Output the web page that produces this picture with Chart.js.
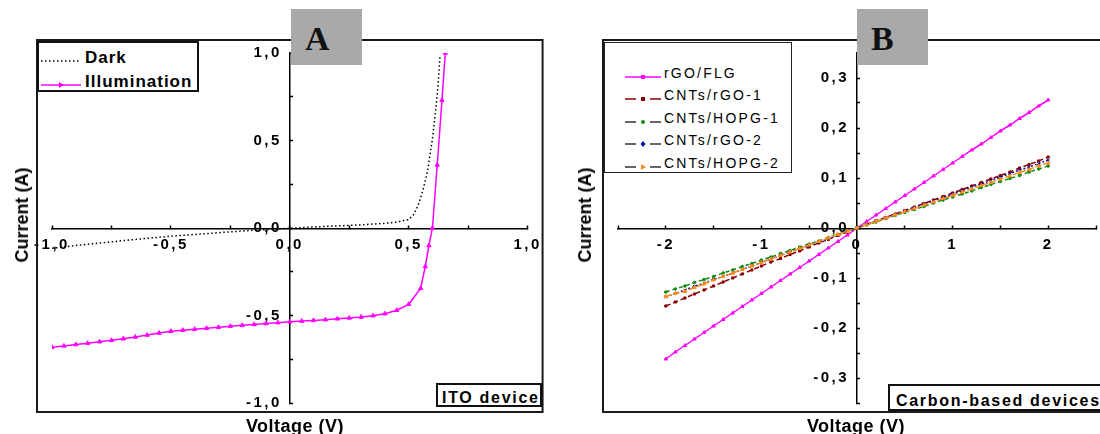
<!DOCTYPE html>
<html>
<head>
<meta charset="utf-8">
<script src="https://cdn.jsdelivr.net/npm/chart.js@4.4.1/dist/chart.umd.min.js"></script>
<style>
  html, body { margin: 0; padding: 0; background: #fff; }
  #wrap { position: relative; width: 1100px; height: 434px; overflow: hidden; font-family: 'Liberation Sans', Arial, sans-serif; color: #000; }
  canvas { position: absolute; top: 0; }
  #chartA { left: 0; }
  #chartB { left: 550px; }
  .tag { position: absolute; top: 9px; width: 71px; height: 56px; background: #a9a9a9; box-sizing: border-box; padding-left: 14px;
         font: bold 34px 'Liberation Serif', 'Times New Roman', serif; line-height: 59px; color: #111; }
  .note { position: absolute; border: 2px solid #111; background: #fff; box-sizing: border-box; white-space: nowrap;
          font-weight: bold; font-size: 16px; letter-spacing: 1.7px; }
  .axtitle { position: absolute; font-weight: bold; font-size: 18px; line-height: 18px; white-space: nowrap; }
  .lgbox { position: absolute; background: #fff; box-sizing: border-box; }
  .lgtext { position: absolute; white-space: nowrap; }
  .lgline { position: absolute; }
</style>
</head>
<body>
<div id="wrap">
  <canvas id="chartA" width="550" height="434"></canvas>
  <canvas id="chartB" width="570" height="434"></canvas>
</div>
<script>
// ---- Panel A : ITO device ----
const namesA = ['Dark', 'Illumination'];
const voltsDark = [-1.0, -0.9, -0.8, -0.7, -0.6, -0.5, -0.4, -0.3, -0.2, -0.1, 0.0, 0.1, 0.2, 0.3, 0.4, 0.45,
                   0.5, 0.52, 0.54, 0.56, 0.58, 0.59, 0.60, 0.61, 0.62, 0.625, 0.632];
const currentDark = [-0.116, -0.100, -0.086, -0.072, -0.059, -0.047, -0.037, -0.027, -0.017, -0.009, -0.002, 0.006,
                     0.012, 0.018, 0.027, 0.034, 0.048, 0.075, 0.13, 0.215, 0.33, 0.42, 0.51, 0.63, 0.76, 0.84, 0.99];
const voltsIllum = [-1.0, -0.95, -0.9, -0.85, -0.8, -0.75, -0.7, -0.65, -0.6, -0.55, -0.5, -0.45, -0.4, -0.35,
                    -0.3, -0.25, -0.2, -0.15, -0.1, -0.05, 0.0, 0.05, 0.1, 0.15, 0.2, 0.25, 0.3, 0.35, 0.4, 0.45,
                    0.5, 0.55, 0.57, 0.585, 0.60, 0.62, 0.64, 0.654];
const currentIllum = [-0.682, -0.674, -0.666, -0.658, -0.650, -0.642, -0.633, -0.623, -0.612, -0.600, -0.590,
                      -0.584, -0.578, -0.573, -0.567, -0.561, -0.556, -0.551, -0.546, -0.541, -0.536, -0.532,
                      -0.528, -0.524, -0.519, -0.514, -0.509, -0.501, -0.490, -0.470, -0.436, -0.345, -0.22,
                      -0.10, 0.0, 0.36, 0.73, 1.0];
const xMajorA = [-1, -0.5, 0, 0.5, 1];
const xLabelsA = ['-1,0', '-0,5', '0,0', '0,5', '1,0'];
const yMajorA = [-1, -0.5, 0, 0.5, 1];
const yLabelsA = ['-1,0', '-0,5', '0,0', '0,5', '1,0'];

// ---- Panel B : Carbon-based devices ----
const namesB = ['rGO/FLG', 'CNTs/rGO-1', 'CNTs/HOPG-1', 'CNTs/rGO-2', 'CNTs/HOPG-2'];
const voltsB = [-2.0, -1.9, -1.8, -1.7, -1.6, -1.5, -1.4, -1.3, -1.2, -1.1, -1.0, -0.9, -0.8, -0.7, -0.6, -0.5,
                -0.4, -0.3, -0.2, -0.1, 0.0, 0.1, 0.2, 0.3, 0.4, 0.5, 0.6, 0.7, 0.8, 0.9, 1.0, 1.1, 1.2, 1.3,
                1.4, 1.5, 1.6, 1.7, 1.8, 1.9, 2.0];
const rgoFlg = [-0.262, -0.248, -0.235, -0.222, -0.209, -0.196, -0.183, -0.170, -0.157, -0.144, -0.131, -0.118,
                -0.105, -0.092, -0.079, -0.066, -0.053, -0.040, -0.027, -0.014, 0.000, 0.013, 0.026, 0.039,
                0.052, 0.065, 0.078, 0.091, 0.104, 0.117, 0.130, 0.143, 0.156, 0.168, 0.181, 0.194, 0.206,
                0.219, 0.231, 0.244, 0.256];
const cntsRgo1 = [-0.156, -0.148, -0.140, -0.132, -0.124, -0.116, -0.108, -0.100, -0.092, -0.084, -0.076, -0.068,
                  -0.061, -0.053, -0.046, -0.038, -0.030, -0.023, -0.015, -0.008, 0.000, 0.007, 0.014, 0.021,
                  0.028, 0.035, 0.042, 0.049, 0.056, 0.063, 0.070, 0.077, 0.084, 0.091, 0.098, 0.105, 0.112,
                  0.120, 0.127, 0.134, 0.142];
const cntsHopg1 = [-0.128, -0.122, -0.116, -0.109, -0.103, -0.097, -0.090, -0.084, -0.077, -0.071, -0.064, -0.058,
                   -0.051, -0.045, -0.038, -0.032, -0.026, -0.019, -0.013, -0.006, 0.000, 0.006, 0.012, 0.019,
                   0.025, 0.031, 0.037, 0.043, 0.050, 0.056, 0.062, 0.068, 0.074, 0.081, 0.087, 0.093, 0.099,
                   0.105, 0.112, 0.118, 0.124];
const cntsRgo2 = [-0.138, -0.131, -0.124, -0.117, -0.110, -0.103, -0.097, -0.090, -0.083, -0.076, -0.069, -0.062,
                  -0.055, -0.048, -0.041, -0.035, -0.028, -0.021, -0.014, -0.007, 0.000, 0.007, 0.014, 0.020,
                  0.027, 0.034, 0.041, 0.048, 0.054, 0.061, 0.068, 0.075, 0.082, 0.088, 0.095, 0.102, 0.109,
                  0.116, 0.122, 0.129, 0.136];
const cntsHopg2 = [-0.137, -0.131, -0.127, -0.119, -0.112, -0.104, -0.097, -0.090, -0.083, -0.076, -0.069, -0.062,
                   -0.055, -0.048, -0.041, -0.034, -0.027, -0.020, -0.013, -0.007, 0.000, 0.007, 0.013, 0.020,
                   0.026, 0.033, 0.039, 0.046, 0.052, 0.059, 0.065, 0.072, 0.078, 0.085, 0.091, 0.098, 0.104,
                   0.111, 0.117, 0.124, 0.130];
const xMajorB = [-2, -1, 0, 1, 2];
const xLabelsB = ['-2', '-1', '0', '1', '2'];
const yMajorB = [-0.3, -0.2, -0.1, 0, 0.1, 0.2, 0.3];
const yLabelsB = ['-0,3', '-0,2', '-0,1', '0,0', '0,1', '0,2', '0,3'];

// styles (kept apart from the values)
const stylesA = [
  { color: '#000000', dash: [1.5, 2.5], point: false, legend: { kind: 'dotted', line: '#000' } },
  { color: '#ff00ff', dash: [], point: 'triangle', radius: 2.5, legend: { kind: 'solid', line: '#ff00ff', marker: 'triangle' } }
];
const stylesB = [
  { color: '#ff00ff', dash: [], point: 'triangle', radius: 2, order: 5, legend: { kind: 'solid', line: '#ff00ff', marker: 'rect' } },
  { color: '#8b0000', dash: [5, 3], point: 'rect', radius: 1.5, order: 4, legend: { kind: 'split', line: '#8b0000', marker: 'rect' } },
  { color: '#108a10', dash: [4, 3], point: 'circle', radius: 1.3, order: 3, legend: { kind: 'split', line: '#333', marker: 'circle' } },
  { color: '#0a0aa0', dash: [2, 2], point: 'crossRot', radius: 2, order: 2, legend: { kind: 'split', line: '#333', marker: 'diamond' } },
  { color: '#ff8c1a', dash: [6, 2], point: 'triangle', radius: 2, order: 1, legend: { kind: 'split', line: '#333', marker: 'triangle' } }
];

const toXY = (xs, ys) => xs.map((x, i) => ({ x: x, y: ys[i] }));

function labelFor(majors, labels) {
  return (v) => {
    const i = majors.findIndex(m => Math.abs(m - v) < 1e-6);
    return i >= 0 ? labels[i] : '';
  };
}

const tickFont = { family: "'Liberation Sans', Arial, sans-serif", size: 15, weight: 'bold' };

function axis(min, max, step, majors, labels) {
  return {
    type: 'linear',
    position: 'center',
    min: min,
    max: max,
    ticks: { stepSize: step, autoSkip: false, maxRotation: 0, color: '#000', font: tickFont, padding: 12,
             callback: labelFor(majors, labels) },
    grid: { display: true, drawOnChartArea: false, drawTicks: true, tickLength: -4, tickWidth: 1.5, tickColor: '#000' },
    border: { display: true, color: '#000', width: 1.5 }
  };
}

// frame round the plot, drawn from the chart area
const framePlugin = {
  id: 'frame',
  beforeDraw(chart) {
    chart.ctx.letterSpacing = '2.5px';
  },
  afterDraw(chart, args, opts) {
    const { ctx, chartArea: a } = chart;
    ctx.save();
    ctx.strokeStyle = '#1a1a1a';
    ctx.lineWidth = 2;
    ctx.strokeRect(a.left - opts.left, a.top - opts.top,
                   a.right - a.left + opts.left + opts.right, a.bottom - a.top + opts.top + opts.bottom);
    ctx.restore();
  }
};

function makeDataset(name, xs, ys, st) {
  return {
    label: name,
    data: toXY(xs, ys),
    borderColor: st.color,
    backgroundColor: st.color,
    borderWidth: 1.5,
    borderDash: st.dash,
    tension: 0,
    pointStyle: st.point || 'circle',
    pointRadius: st.point ? st.radius : 0,
    pointBorderWidth: 1,
    pointBorderColor: st.color,
    pointBackgroundColor: st.color,
    order: st.order || 0
  };
}

function baseOptions(pad, xs, ys) {
  return {
    responsive: false,
    animation: false,
    devicePixelRatio: 1,
    layout: { padding: pad },
    plugins: { legend: { display: false }, tooltip: { enabled: false },
               frame: { left: 15, top: 13, right: 15, bottom: 9 } },
    scales: { x: xs, y: ys }
  };
}

new Chart(document.getElementById('chartA'), {
  type: 'line',
  data: {
    datasets: [
      makeDataset(namesA[0], voltsDark, currentDark, stylesA[0]),
      makeDataset(namesA[1], voltsIllum, currentIllum, stylesA[1])
    ]
  },
  options: baseOptions({ left: 52, right: 18, top: 53, bottom: 31 },
                       axis(-1, 1, 0.25, xMajorA, xLabelsA),
                       axis(-1, 1, 0.25, yMajorA, yLabelsA)),
  plugins: [framePlugin]
});

const seriesB = [rgoFlg, cntsRgo1, cntsHopg1, cntsRgo2, cntsHopg2];
new Chart(document.getElementById('chartB'), {
  type: 'line',
  data: { datasets: seriesB.map((s, i) => makeDataset(namesB[i], voltsB, s, stylesB[i])) },
  options: baseOptions({ left: 68, right: 24, top: 53, bottom: 31 },
                       axis(-2.5, 2.5, 0.5, xMajorB, xLabelsB),
                       axis(-0.35, 0.35, 0.05, yMajorB, yLabelsB)),
  plugins: [framePlugin]
});

// ---- overlays: legends, tags, notes, axis titles ----
const wrap = document.getElementById('wrap');
function add(cls, css, html) {
  const d = document.createElement('div');
  d.className = cls;
  d.style.cssText = css;
  d.innerHTML = html;
  wrap.appendChild(d);
  return d;
}

function markerSvg(m, color, cx, cy) {
  if (m === 'rect') return `<rect x="${cx - 2}" y="${cy - 2}" width="4" height="4" fill="${color}"/>`;
  if (m === 'circle') return `<circle cx="${cx}" cy="${cy}" r="2" fill="${color}"/>`;
  if (m === 'diamond') return `<path d="M${cx} ${cy - 3}L${cx + 2.5} ${cy}L${cx} ${cy + 3}L${cx - 2.5} ${cy}Z" fill="${color}"/>`;
  if (m === 'triangle') return `<path d="M${cx - 2} ${cy - 3}L${cx + 3} ${cy}L${cx - 2} ${cy + 3}Z" fill="${color}"/>`;
  return '';
}

function sampleSvg(lg, color, w) {
  const y = 5;
  let s = `<svg width="${w}" height="10" xmlns="http://www.w3.org/2000/svg">`;
  if (lg.kind === 'solid') {
    s += `<line x1="0" y1="${y}" x2="${w}" y2="${y}" stroke="${lg.line}" stroke-width="1.5"/>`;
  } else if (lg.kind === 'dotted') {
    s += `<line x1="0" y1="${y}" x2="${w}" y2="${y}" stroke="${lg.line}" stroke-width="1.5" stroke-dasharray="1.5 2.5"/>`;
  } else {
    s += `<line x1="0" y1="${y}" x2="${w / 2 - 7}" y2="${y}" stroke="${lg.line}" stroke-width="1.5"/>`;
    s += `<line x1="${w / 2 + 7}" y1="${y}" x2="${w}" y2="${y}" stroke="${lg.line}" stroke-width="1.5"/>`;
  }
  if (lg.marker) s += markerSvg(lg.marker, color, w / 2, y);
  return s + '</svg>';
}

// legend A
add('lgbox', 'left:37px;top:41px;width:162px;height:51px;border:2px solid #111;', '');
const rowsA = [57, 81];
namesA.forEach((n, i) => {
  add('lgline', `left:41px;top:${rowsA[i] - 5}px;`, sampleSvg(stylesA[i].legend, stylesA[i].color, 40));
  add('lgtext', `left:85px;top:${rowsA[i] - 8.5}px;font-weight:bold;font-size:17px;line-height:17px;letter-spacing:1px;`, n);
});

// legend B
add('lgbox', 'left:604px;top:42px;width:188px;height:131px;border:1.5px solid #222;', '');
const rowsB = [72.5, 94.5, 117.5, 140, 163];
namesB.forEach((n, i) => {
  add('lgline', `left:625px;top:${rowsB[i] - 5}px;`, sampleSvg(stylesB[i].legend, stylesB[i].color, 36));
  add('lgtext', `left:664px;top:${rowsB[i] - 7}px;font-size:14px;line-height:14px;letter-spacing:2.2px;`, n);
});

// panel tags
add('tag', 'left:291px;', 'A');
add('tag', 'left:857px;', 'B');

// device notes
add('note', 'left:436px;top:383px;width:106px;height:24px;padding-left:4px;line-height:26px;', 'ITO device');
add('note', 'left:888px;top:384px;width:260px;height:27px;padding-left:6px;line-height:30px;', 'Carbon-based devices');

// axis titles
add('axtitle', 'left:295px;top:417px;transform:translateX(-50%);letter-spacing:0.5px;', 'Voltage (V)');
add('axtitle', 'left:856px;top:417px;transform:translateX(-50%);letter-spacing:0.5px;', 'Voltage (V)');
add('axtitle', 'left:22px;top:215px;transform:translate(-50%,-50%) rotate(-90deg);', 'Current (A)');
add('axtitle', 'left:585px;top:215px;transform:translate(-50%,-50%) rotate(-90deg);', 'Current (A)');
</script>
</body>
</html>
